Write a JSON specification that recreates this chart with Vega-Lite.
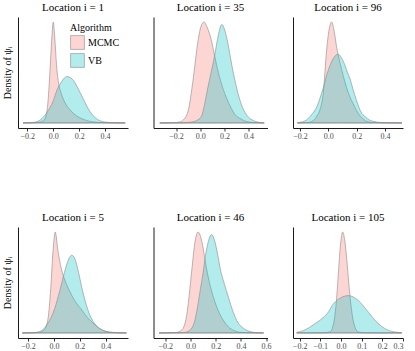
{
  "$schema": "https://vega.github.io/schema/vega-lite/v6.json",
  "padding": {"left": 2, "top": 2, "right": 2, "bottom": 2},
  "background": "white",
  "config": {
    "view": {"stroke": null},
    "title": {"font": "Liberation Serif", "fontSize": 11, "fontWeight": "normal", "color": "black", "offset": 4},
    "axis": {"labelFont": "Liberation Serif", "titleFont": "Liberation Serif", "grid": false, "domainColor": "#1a1a1a", "domainWidth": 1, "tickColor": "#333333"},
    "axisX": {"labelFontSize": 8, "labelColor": "#4d4d4d", "tickSize": 3, "labelPadding": 1.5, "title": null, "format": ".1f"},
    "axisY": {"ticks": false, "labels": false, "titleFontSize": 10, "titleFontWeight": "normal", "titleColor": "black", "titlePadding": 6}
  },
  "data": {"values": [
    {"panel": 1, "algorithm": "MCMC", "psi": -0.233, "density": 0},
    {"panel": 1, "algorithm": "MCMC", "psi": -0.12, "density": 0.005},
    {"panel": 1, "algorithm": "MCMC", "psi": -0.08, "density": 0.02},
    {"panel": 1, "algorithm": "MCMC", "psi": -0.06, "density": 0.05},
    {"panel": 1, "algorithm": "MCMC", "psi": -0.04, "density": 0.22},
    {"panel": 1, "algorithm": "MCMC", "psi": -0.025, "density": 0.52},
    {"panel": 1, "algorithm": "MCMC", "psi": -0.012, "density": 0.82},
    {"panel": 1, "algorithm": "MCMC", "psi": 0.0, "density": 1.0},
    {"panel": 1, "algorithm": "MCMC", "psi": 0.012, "density": 0.84},
    {"panel": 1, "algorithm": "MCMC", "psi": 0.025, "density": 0.58},
    {"panel": 1, "algorithm": "MCMC", "psi": 0.043, "density": 0.38},
    {"panel": 1, "algorithm": "MCMC", "psi": 0.06, "density": 0.3},
    {"panel": 1, "algorithm": "MCMC", "psi": 0.08, "density": 0.23},
    {"panel": 1, "algorithm": "MCMC", "psi": 0.1, "density": 0.18},
    {"panel": 1, "algorithm": "MCMC", "psi": 0.13, "density": 0.13},
    {"panel": 1, "algorithm": "MCMC", "psi": 0.16, "density": 0.09},
    {"panel": 1, "algorithm": "MCMC", "psi": 0.2, "density": 0.055},
    {"panel": 1, "algorithm": "MCMC", "psi": 0.25, "density": 0.028},
    {"panel": 1, "algorithm": "MCMC", "psi": 0.3, "density": 0.012},
    {"panel": 1, "algorithm": "MCMC", "psi": 0.4, "density": 0.002},
    {"panel": 1, "algorithm": "MCMC", "psi": 0.556, "density": 0},
    {"panel": 1, "algorithm": "VB", "psi": -0.233, "density": 0},
    {"panel": 1, "algorithm": "VB", "psi": -0.15, "density": 0.006},
    {"panel": 1, "algorithm": "VB", "psi": -0.1, "density": 0.03},
    {"panel": 1, "algorithm": "VB", "psi": -0.05, "density": 0.1},
    {"panel": 1, "algorithm": "VB", "psi": 0.0, "density": 0.22},
    {"panel": 1, "algorithm": "VB", "psi": 0.03, "density": 0.33},
    {"panel": 1, "algorithm": "VB", "psi": 0.06, "density": 0.4},
    {"panel": 1, "algorithm": "VB", "psi": 0.085, "density": 0.445},
    {"panel": 1, "algorithm": "VB", "psi": 0.106, "density": 0.46},
    {"panel": 1, "algorithm": "VB", "psi": 0.13, "density": 0.45},
    {"panel": 1, "algorithm": "VB", "psi": 0.157, "density": 0.42},
    {"panel": 1, "algorithm": "VB", "psi": 0.18, "density": 0.37},
    {"panel": 1, "algorithm": "VB", "psi": 0.208, "density": 0.3},
    {"panel": 1, "algorithm": "VB", "psi": 0.235, "density": 0.23},
    {"panel": 1, "algorithm": "VB", "psi": 0.258, "density": 0.17},
    {"panel": 1, "algorithm": "VB", "psi": 0.285, "density": 0.11},
    {"panel": 1, "algorithm": "VB", "psi": 0.31, "density": 0.07},
    {"panel": 1, "algorithm": "VB", "psi": 0.36, "density": 0.023},
    {"panel": 1, "algorithm": "VB", "psi": 0.42, "density": 0.006},
    {"panel": 1, "algorithm": "VB", "psi": 0.556, "density": 0},

    {"panel": 2, "algorithm": "MCMC", "psi": -0.335, "density": 0},
    {"panel": 2, "algorithm": "MCMC", "psi": -0.22, "density": 0.003},
    {"panel": 2, "algorithm": "MCMC", "psi": -0.17, "density": 0.01},
    {"panel": 2, "algorithm": "MCMC", "psi": -0.14, "density": 0.03},
    {"panel": 2, "algorithm": "MCMC", "psi": -0.1, "density": 0.12},
    {"panel": 2, "algorithm": "MCMC", "psi": -0.06, "density": 0.42},
    {"panel": 2, "algorithm": "MCMC", "psi": -0.02, "density": 0.8},
    {"panel": 2, "algorithm": "MCMC", "psi": 0.0, "density": 0.93},
    {"panel": 2, "algorithm": "MCMC", "psi": 0.03, "density": 1.0},
    {"panel": 2, "algorithm": "MCMC", "psi": 0.06, "density": 0.94},
    {"panel": 2, "algorithm": "MCMC", "psi": 0.09, "density": 0.83},
    {"panel": 2, "algorithm": "MCMC", "psi": 0.12, "density": 0.66},
    {"panel": 2, "algorithm": "MCMC", "psi": 0.15, "density": 0.5},
    {"panel": 2, "algorithm": "MCMC", "psi": 0.186, "density": 0.35},
    {"panel": 2, "algorithm": "MCMC", "psi": 0.22, "density": 0.24},
    {"panel": 2, "algorithm": "MCMC", "psi": 0.255, "density": 0.15},
    {"panel": 2, "algorithm": "MCMC", "psi": 0.29, "density": 0.08},
    {"panel": 2, "algorithm": "MCMC", "psi": 0.337, "density": 0.04},
    {"panel": 2, "algorithm": "MCMC", "psi": 0.38, "density": 0.015},
    {"panel": 2, "algorithm": "MCMC", "psi": 0.45, "density": 0.003},
    {"panel": 2, "algorithm": "MCMC", "psi": 0.53, "density": 0},
    {"panel": 2, "algorithm": "VB", "psi": -0.335, "density": 0},
    {"panel": 2, "algorithm": "VB", "psi": -0.15, "density": 0.002},
    {"panel": 2, "algorithm": "VB", "psi": -0.08, "density": 0.008},
    {"panel": 2, "algorithm": "VB", "psi": -0.03, "density": 0.025},
    {"panel": 2, "algorithm": "VB", "psi": 0.008, "density": 0.06},
    {"panel": 2, "algorithm": "VB", "psi": 0.035, "density": 0.18},
    {"panel": 2, "algorithm": "VB", "psi": 0.063, "density": 0.35},
    {"panel": 2, "algorithm": "VB", "psi": 0.09, "density": 0.5},
    {"panel": 2, "algorithm": "VB", "psi": 0.118, "density": 0.66},
    {"panel": 2, "algorithm": "VB", "psi": 0.15, "density": 0.87},
    {"panel": 2, "algorithm": "VB", "psi": 0.178, "density": 0.975},
    {"panel": 2, "algorithm": "VB", "psi": 0.2, "density": 0.93},
    {"panel": 2, "algorithm": "VB", "psi": 0.227, "density": 0.8},
    {"panel": 2, "algorithm": "VB", "psi": 0.25, "density": 0.65},
    {"panel": 2, "algorithm": "VB", "psi": 0.27, "density": 0.52},
    {"panel": 2, "algorithm": "VB", "psi": 0.295, "density": 0.38},
    {"panel": 2, "algorithm": "VB", "psi": 0.323, "density": 0.25},
    {"panel": 2, "algorithm": "VB", "psi": 0.355, "density": 0.14},
    {"panel": 2, "algorithm": "VB", "psi": 0.39, "density": 0.07},
    {"panel": 2, "algorithm": "VB", "psi": 0.43, "density": 0.03},
    {"panel": 2, "algorithm": "VB", "psi": 0.47, "density": 0.01},
    {"panel": 2, "algorithm": "VB", "psi": 0.53, "density": 0},

    {"panel": 3, "algorithm": "MCMC", "psi": -0.218, "density": 0},
    {"panel": 3, "algorithm": "MCMC", "psi": -0.14, "density": 0.005},
    {"panel": 3, "algorithm": "MCMC", "psi": -0.1, "density": 0.03},
    {"panel": 3, "algorithm": "MCMC", "psi": -0.08, "density": 0.07},
    {"panel": 3, "algorithm": "MCMC", "psi": -0.059, "density": 0.13},
    {"panel": 3, "algorithm": "MCMC", "psi": -0.035, "density": 0.3},
    {"panel": 3, "algorithm": "MCMC", "psi": -0.012, "density": 0.72},
    {"panel": 3, "algorithm": "MCMC", "psi": 0.005, "density": 0.92},
    {"panel": 3, "algorithm": "MCMC", "psi": 0.024, "density": 1.0},
    {"panel": 3, "algorithm": "MCMC", "psi": 0.04, "density": 0.92},
    {"panel": 3, "algorithm": "MCMC", "psi": 0.059, "density": 0.75},
    {"panel": 3, "algorithm": "MCMC", "psi": 0.082, "density": 0.6},
    {"panel": 3, "algorithm": "MCMC", "psi": 0.105, "density": 0.47},
    {"panel": 3, "algorithm": "MCMC", "psi": 0.129, "density": 0.35},
    {"panel": 3, "algorithm": "MCMC", "psi": 0.152, "density": 0.26},
    {"panel": 3, "algorithm": "MCMC", "psi": 0.176, "density": 0.19},
    {"panel": 3, "algorithm": "MCMC", "psi": 0.2, "density": 0.12},
    {"panel": 3, "algorithm": "MCMC", "psi": 0.224, "density": 0.07},
    {"panel": 3, "algorithm": "MCMC", "psi": 0.25, "density": 0.035},
    {"panel": 3, "algorithm": "MCMC", "psi": 0.27, "density": 0.016},
    {"panel": 3, "algorithm": "MCMC", "psi": 0.32, "density": 0.004},
    {"panel": 3, "algorithm": "MCMC", "psi": 0.52, "density": 0},
    {"panel": 3, "algorithm": "VB", "psi": -0.218, "density": 0.003},
    {"panel": 3, "algorithm": "VB", "psi": -0.18, "density": 0.012},
    {"panel": 3, "algorithm": "VB", "psi": -0.153, "density": 0.03},
    {"panel": 3, "algorithm": "VB", "psi": -0.12, "density": 0.08},
    {"panel": 3, "algorithm": "VB", "psi": -0.082, "density": 0.157},
    {"panel": 3, "algorithm": "VB", "psi": -0.06, "density": 0.24},
    {"panel": 3, "algorithm": "VB", "psi": -0.035, "density": 0.35},
    {"panel": 3, "algorithm": "VB", "psi": -0.01, "density": 0.48},
    {"panel": 3, "algorithm": "VB", "psi": 0.012, "density": 0.57},
    {"panel": 3, "algorithm": "VB", "psi": 0.04, "density": 0.65},
    {"panel": 3, "algorithm": "VB", "psi": 0.07, "density": 0.68},
    {"panel": 3, "algorithm": "VB", "psi": 0.095, "density": 0.64},
    {"panel": 3, "algorithm": "VB", "psi": 0.118, "density": 0.57},
    {"panel": 3, "algorithm": "VB", "psi": 0.135, "density": 0.5},
    {"panel": 3, "algorithm": "VB", "psi": 0.153, "density": 0.44},
    {"panel": 3, "algorithm": "VB", "psi": 0.175, "density": 0.33},
    {"panel": 3, "algorithm": "VB", "psi": 0.2, "density": 0.22},
    {"panel": 3, "algorithm": "VB", "psi": 0.23, "density": 0.11},
    {"panel": 3, "algorithm": "VB", "psi": 0.259, "density": 0.063},
    {"panel": 3, "algorithm": "VB", "psi": 0.29, "density": 0.03},
    {"panel": 3, "algorithm": "VB", "psi": 0.318, "density": 0.016},
    {"panel": 3, "algorithm": "VB", "psi": 0.38, "density": 0.003},
    {"panel": 3, "algorithm": "VB", "psi": 0.52, "density": 0},

    {"panel": 4, "algorithm": "MCMC", "psi": -0.245, "density": 0},
    {"panel": 4, "algorithm": "MCMC", "psi": -0.12, "density": 0.004},
    {"panel": 4, "algorithm": "MCMC", "psi": -0.08, "density": 0.025},
    {"panel": 4, "algorithm": "MCMC", "psi": -0.06, "density": 0.07},
    {"panel": 4, "algorithm": "MCMC", "psi": -0.046, "density": 0.14},
    {"panel": 4, "algorithm": "MCMC", "psi": -0.025, "density": 0.44},
    {"panel": 4, "algorithm": "MCMC", "psi": -0.008, "density": 0.8},
    {"panel": 4, "algorithm": "MCMC", "psi": 0.01, "density": 1.0},
    {"panel": 4, "algorithm": "MCMC", "psi": 0.03, "density": 0.82},
    {"panel": 4, "algorithm": "MCMC", "psi": 0.056, "density": 0.64},
    {"panel": 4, "algorithm": "MCMC", "psi": 0.085, "density": 0.52},
    {"panel": 4, "algorithm": "MCMC", "psi": 0.119, "density": 0.42},
    {"panel": 4, "algorithm": "MCMC", "psi": 0.16, "density": 0.32},
    {"panel": 4, "algorithm": "MCMC", "psi": 0.208, "density": 0.24},
    {"panel": 4, "algorithm": "MCMC", "psi": 0.26, "density": 0.15},
    {"panel": 4, "algorithm": "MCMC", "psi": 0.309, "density": 0.09},
    {"panel": 4, "algorithm": "MCMC", "psi": 0.345, "density": 0.05},
    {"panel": 4, "algorithm": "MCMC", "psi": 0.385, "density": 0.023},
    {"panel": 4, "algorithm": "MCMC", "psi": 0.45, "density": 0.006},
    {"panel": 4, "algorithm": "MCMC", "psi": 0.56, "density": 0},
    {"panel": 4, "algorithm": "VB", "psi": -0.245, "density": 0},
    {"panel": 4, "algorithm": "VB", "psi": -0.15, "density": 0.004},
    {"panel": 4, "algorithm": "VB", "psi": -0.096, "density": 0.023},
    {"panel": 4, "algorithm": "VB", "psi": -0.05, "density": 0.09},
    {"panel": 4, "algorithm": "VB", "psi": 0.005, "density": 0.24},
    {"panel": 4, "algorithm": "VB", "psi": 0.045, "density": 0.42},
    {"panel": 4, "algorithm": "VB", "psi": 0.081, "density": 0.6},
    {"panel": 4, "algorithm": "VB", "psi": 0.11, "density": 0.72},
    {"panel": 4, "algorithm": "VB", "psi": 0.137, "density": 0.77},
    {"panel": 4, "algorithm": "VB", "psi": 0.16, "density": 0.74},
    {"panel": 4, "algorithm": "VB", "psi": 0.19, "density": 0.6},
    {"panel": 4, "algorithm": "VB", "psi": 0.215, "density": 0.45},
    {"panel": 4, "algorithm": "VB", "psi": 0.245, "density": 0.3},
    {"panel": 4, "algorithm": "VB", "psi": 0.27, "density": 0.2},
    {"panel": 4, "algorithm": "VB", "psi": 0.3, "density": 0.12},
    {"panel": 4, "algorithm": "VB", "psi": 0.347, "density": 0.05},
    {"panel": 4, "algorithm": "VB", "psi": 0.4, "density": 0.016},
    {"panel": 4, "algorithm": "VB", "psi": 0.46, "density": 0.004},
    {"panel": 4, "algorithm": "VB", "psi": 0.56, "density": 0},

    {"panel": 5, "algorithm": "MCMC", "psi": -0.25, "density": 0},
    {"panel": 5, "algorithm": "MCMC", "psi": -0.12, "density": 0.004},
    {"panel": 5, "algorithm": "MCMC", "psi": -0.08, "density": 0.02},
    {"panel": 5, "algorithm": "MCMC", "psi": -0.053, "density": 0.06},
    {"panel": 5, "algorithm": "MCMC", "psi": -0.03, "density": 0.18},
    {"panel": 5, "algorithm": "MCMC", "psi": -0.013, "density": 0.345},
    {"panel": 5, "algorithm": "MCMC", "psi": 0.013, "density": 0.66},
    {"panel": 5, "algorithm": "MCMC", "psi": 0.035, "density": 0.9},
    {"panel": 5, "algorithm": "MCMC", "psi": 0.06, "density": 1.0},
    {"panel": 5, "algorithm": "MCMC", "psi": 0.085, "density": 0.93},
    {"panel": 5, "algorithm": "MCMC", "psi": 0.1, "density": 0.84},
    {"panel": 5, "algorithm": "MCMC", "psi": 0.118, "density": 0.7},
    {"panel": 5, "algorithm": "MCMC", "psi": 0.15, "density": 0.5},
    {"panel": 5, "algorithm": "MCMC", "psi": 0.184, "density": 0.345},
    {"panel": 5, "algorithm": "MCMC", "psi": 0.22, "density": 0.22},
    {"panel": 5, "algorithm": "MCMC", "psi": 0.263, "density": 0.12},
    {"panel": 5, "algorithm": "MCMC", "psi": 0.3, "density": 0.06},
    {"panel": 5, "algorithm": "MCMC", "psi": 0.342, "density": 0.026},
    {"panel": 5, "algorithm": "MCMC", "psi": 0.4, "density": 0.006},
    {"panel": 5, "algorithm": "MCMC", "psi": 0.58, "density": 0},
    {"panel": 5, "algorithm": "VB", "psi": -0.25, "density": 0},
    {"panel": 5, "algorithm": "VB", "psi": -0.06, "density": 0.003},
    {"panel": 5, "algorithm": "VB", "psi": -0.02, "density": 0.015},
    {"panel": 5, "algorithm": "VB", "psi": 0.026, "density": 0.09},
    {"panel": 5, "algorithm": "VB", "psi": 0.05, "density": 0.22},
    {"panel": 5, "algorithm": "VB", "psi": 0.079, "density": 0.44},
    {"panel": 5, "algorithm": "VB", "psi": 0.1, "density": 0.6},
    {"panel": 5, "algorithm": "VB", "psi": 0.118, "density": 0.76},
    {"panel": 5, "algorithm": "VB", "psi": 0.14, "density": 0.9},
    {"panel": 5, "algorithm": "VB", "psi": 0.166, "density": 0.975},
    {"panel": 5, "algorithm": "VB", "psi": 0.19, "density": 0.92},
    {"panel": 5, "algorithm": "VB", "psi": 0.215, "density": 0.78},
    {"panel": 5, "algorithm": "VB", "psi": 0.237, "density": 0.63},
    {"panel": 5, "algorithm": "VB", "psi": 0.27, "density": 0.48},
    {"panel": 5, "algorithm": "VB", "psi": 0.303, "density": 0.345},
    {"panel": 5, "algorithm": "VB", "psi": 0.335, "density": 0.22},
    {"panel": 5, "algorithm": "VB", "psi": 0.368, "density": 0.12},
    {"panel": 5, "algorithm": "VB", "psi": 0.41, "density": 0.055},
    {"panel": 5, "algorithm": "VB", "psi": 0.447, "density": 0.026},
    {"panel": 5, "algorithm": "VB", "psi": 0.5, "density": 0.006},
    {"panel": 5, "algorithm": "VB", "psi": 0.58, "density": 0},

    {"panel": 6, "algorithm": "MCMC", "psi": -0.214, "density": 0},
    {"panel": 6, "algorithm": "MCMC", "psi": -0.09, "density": 0.001},
    {"panel": 6, "algorithm": "MCMC", "psi": -0.052, "density": 0.011},
    {"panel": 6, "algorithm": "MCMC", "psi": -0.042, "density": 0.044},
    {"panel": 6, "algorithm": "MCMC", "psi": -0.032, "density": 0.135},
    {"panel": 6, "algorithm": "MCMC", "psi": -0.022, "density": 0.32},
    {"panel": 6, "algorithm": "MCMC", "psi": -0.012, "density": 0.61},
    {"panel": 6, "algorithm": "MCMC", "psi": -0.002, "density": 0.88},
    {"panel": 6, "algorithm": "MCMC", "psi": 0.008, "density": 1.0},
    {"panel": 6, "algorithm": "MCMC", "psi": 0.018, "density": 0.92},
    {"panel": 6, "algorithm": "MCMC", "psi": 0.028, "density": 0.73},
    {"panel": 6, "algorithm": "MCMC", "psi": 0.038, "density": 0.49},
    {"panel": 6, "algorithm": "MCMC", "psi": 0.048, "density": 0.28},
    {"panel": 6, "algorithm": "MCMC", "psi": 0.058, "density": 0.135},
    {"panel": 6, "algorithm": "MCMC", "psi": 0.068, "density": 0.056},
    {"panel": 6, "algorithm": "MCMC", "psi": 0.083, "density": 0.011},
    {"panel": 6, "algorithm": "MCMC", "psi": 0.11, "density": 0.001},
    {"panel": 6, "algorithm": "MCMC", "psi": 0.294, "density": 0},
    {"panel": 6, "algorithm": "VB", "psi": -0.214, "density": 0.006},
    {"panel": 6, "algorithm": "VB", "psi": -0.18, "density": 0.025},
    {"panel": 6, "algorithm": "VB", "psi": -0.151, "density": 0.057},
    {"panel": 6, "algorithm": "VB", "psi": -0.12, "density": 0.1},
    {"panel": 6, "algorithm": "VB", "psi": -0.087, "density": 0.15},
    {"panel": 6, "algorithm": "VB", "psi": -0.06, "density": 0.21},
    {"panel": 6, "algorithm": "VB", "psi": -0.04, "density": 0.28},
    {"panel": 6, "algorithm": "VB", "psi": -0.015, "density": 0.33},
    {"panel": 6, "algorithm": "VB", "psi": 0.01, "density": 0.36},
    {"panel": 6, "algorithm": "VB", "psi": 0.037, "density": 0.37},
    {"panel": 6, "algorithm": "VB", "psi": 0.065, "density": 0.35},
    {"panel": 6, "algorithm": "VB", "psi": 0.085, "density": 0.32},
    {"panel": 6, "algorithm": "VB", "psi": 0.103, "density": 0.28},
    {"panel": 6, "algorithm": "VB", "psi": 0.135, "density": 0.2},
    {"panel": 6, "algorithm": "VB", "psi": 0.167, "density": 0.12},
    {"panel": 6, "algorithm": "VB", "psi": 0.2, "density": 0.06},
    {"panel": 6, "algorithm": "VB", "psi": 0.23, "density": 0.025},
    {"panel": 6, "algorithm": "VB", "psi": 0.26, "density": 0.01},
    {"panel": 6, "algorithm": "VB", "psi": 0.294, "density": 0.003}
  ]},
  "columns": 3,
  "bounds": "flush",
  "align": "each",
  "spacing": {"row": 99, "column": 25.5},
  "resolve": {"scale": {"color": "independent"}, "legend": {"color": "independent"}},
  "concat": [
    {
      "title": {"text": "Location i = 1", "fontWeight": "normal", "font": "Liberation Serif", "fontSize": 11},
      "width": 110, "height": 111,
      "transform": [{"filter": "datum.panel == 1"}],
      "mark": {"type": "area", "interpolate": "monotone", "stroke": "#8a8a8a", "strokeWidth": 0.6},
      "encoding": {
        "x": {"field": "psi", "type": "quantitative", "scale": {"domain": [-0.272, 0.577], "nice": false, "zero": false}, "axis": {"values": [-0.2, 0, 0.2, 0.4]}},
        "y": {"field": "density", "type": "quantitative", "stack": null, "scale": {"domain": [-0.05, 1.05], "nice": false, "zero": false}, "axis": {"title": "Density of ψᵢ"}},
        "color": {"field": "algorithm", "type": "nominal", "scale": {"domain": ["MCMC", "VB"], "range": ["rgba(248,118,109,0.3)", "rgba(0,191,196,0.3)"]},
          "legend": {"orient": "none", "legendX": 52, "legendY": 6, "title": "Algorithm", "titleFont": "Liberation Serif", "titleFontSize": 10, "titleFontWeight": "normal", "titleColor": "black", "labelFont": "Liberation Serif", "labelFontSize": 10, "labelColor": "black", "symbolType": "square", "symbolSize": 190, "symbolStrokeColor": "#8a8a8a", "symbolStrokeWidth": 0.6, "rowPadding": 1, "titlePadding": 2, "labelOffset": 3}}
      }
    },
    {
      "title": {"text": "Location i = 35", "fontWeight": "normal", "font": "Liberation Serif", "fontSize": 11},
      "width": 114, "height": 111,
      "transform": [{"filter": "datum.panel == 2"}],
      "mark": {"type": "area", "interpolate": "monotone", "stroke": "#8a8a8a", "strokeWidth": 0.6},
      "encoding": {
        "x": {"field": "psi", "type": "quantitative", "scale": {"domain": [-0.387, 0.557], "nice": false, "zero": false}, "axis": {"values": [-0.2, 0, 0.2, 0.4]}},
        "y": {"field": "density", "type": "quantitative", "stack": null, "scale": {"domain": [-0.05, 1.05], "nice": false, "zero": false}, "axis": {"title": null}},
        "color": {"field": "algorithm", "type": "nominal", "scale": {"domain": ["MCMC", "VB"], "range": ["rgba(248,118,109,0.3)", "rgba(0,191,196,0.3)"]}, "legend": null}
      }
    },
    {
      "title": {"text": "Location i = 96", "fontWeight": "normal", "font": "Liberation Serif", "fontSize": 11},
      "width": 110, "height": 111,
      "transform": [{"filter": "datum.panel == 3"}],
      "mark": {"type": "area", "interpolate": "monotone", "stroke": "#8a8a8a", "strokeWidth": 0.6},
      "encoding": {
        "x": {"field": "psi", "type": "quantitative", "scale": {"domain": [-0.249, 0.527], "nice": false, "zero": false}, "axis": {"values": [-0.2, 0, 0.2, 0.4]}},
        "y": {"field": "density", "type": "quantitative", "stack": null, "scale": {"domain": [-0.05, 1.05], "nice": false, "zero": false}, "axis": {"title": null}},
        "color": {"field": "algorithm", "type": "nominal", "scale": {"domain": ["MCMC", "VB"], "range": ["rgba(248,118,109,0.3)", "rgba(0,191,196,0.3)"]}, "legend": null}
      }
    },
    {
      "title": {"text": "Location i = 5", "fontWeight": "normal", "font": "Liberation Serif", "fontSize": 11},
      "width": 110, "height": 111,
      "transform": [{"filter": "datum.panel == 4"}],
      "mark": {"type": "area", "interpolate": "monotone", "stroke": "#8a8a8a", "strokeWidth": 0.6},
      "encoding": {
        "x": {"field": "psi", "type": "quantitative", "scale": {"domain": [-0.278, 0.572], "nice": false, "zero": false}, "axis": {"values": [-0.2, 0, 0.2, 0.4]}},
        "y": {"field": "density", "type": "quantitative", "stack": null, "scale": {"domain": [-0.05, 1.05], "nice": false, "zero": false}, "axis": {"title": "Density of ψᵢ"}},
        "color": {"field": "algorithm", "type": "nominal", "scale": {"domain": ["MCMC", "VB"], "range": ["rgba(248,118,109,0.3)", "rgba(0,191,196,0.3)"]}, "legend": null}
      }
    },
    {
      "title": {"text": "Location i = 46", "fontWeight": "normal", "font": "Liberation Serif", "fontSize": 11},
      "width": 114, "height": 111,
      "transform": [{"filter": "datum.panel == 5"}],
      "mark": {"type": "area", "interpolate": "monotone", "stroke": "#8a8a8a", "strokeWidth": 0.6},
      "encoding": {
        "x": {"field": "psi", "type": "quantitative", "scale": {"domain": [-0.294, 0.611], "nice": false, "zero": false}, "axis": {"values": [-0.2, 0, 0.2, 0.4, 0.6]}},
        "y": {"field": "density", "type": "quantitative", "stack": null, "scale": {"domain": [-0.05, 1.05], "nice": false, "zero": false}, "axis": {"title": null}},
        "color": {"field": "algorithm", "type": "nominal", "scale": {"domain": ["MCMC", "VB"], "range": ["rgba(248,118,109,0.3)", "rgba(0,191,196,0.3)"]}, "legend": null}
      }
    },
    {
      "title": {"text": "Location i = 105", "fontWeight": "normal", "font": "Liberation Serif", "fontSize": 11},
      "width": 110, "height": 111,
      "transform": [{"filter": "datum.panel == 6"}],
      "mark": {"type": "area", "interpolate": "monotone", "stroke": "#8a8a8a", "strokeWidth": 0.6},
      "encoding": {
        "x": {"field": "psi", "type": "quantitative", "scale": {"domain": [-0.232, 0.3], "nice": false, "zero": false}, "axis": {"values": [-0.2, -0.1, 0, 0.1, 0.2, 0.3]}},
        "y": {"field": "density", "type": "quantitative", "stack": null, "scale": {"domain": [-0.05, 1.05], "nice": false, "zero": false}, "axis": {"title": null}},
        "color": {"field": "algorithm", "type": "nominal", "scale": {"domain": ["MCMC", "VB"], "range": ["rgba(248,118,109,0.3)", "rgba(0,191,196,0.3)"]}, "legend": null}
      }
    }
  ]
}
